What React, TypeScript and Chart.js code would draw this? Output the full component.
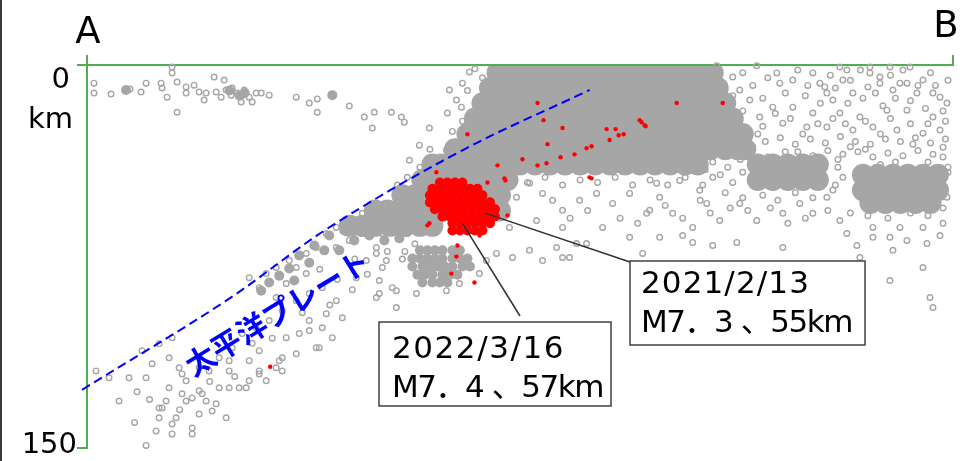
import { useEffect, useRef } from "react";
import { Chart, registerables } from "chart.js";

Chart.register(...registerables);

// ---- axes (distance along section A-B in km, depth in km) ----
const X_MAX = 346;
const DEPTH_MAX = 150;
const distTicks = [0, 346];
const depthTicks = [0, 150];
const endLabels = ["A", "B"];
const depthLabelTop = ["0", "km"];
const depthLabelBottom = "150";

// ---- hypocentres (gray) : dense core, rows of [depth, distances] ----
const grayCoreRows: [number, number[]][] = [
  [3, [164, 170, 176, 182, 188, 194, 200, 206, 212, 218, 224, 230, 236, 242, 246, 250]],
  [9, [161, 167, 173, 179, 185, 191, 197, 203, 209, 215, 221, 227, 233, 239, 245, 249, 252]],
  [15, [158, 164, 170, 176, 182, 188, 194, 200, 206, 212, 218, 224, 230, 236, 242, 248, 252, 255]],
  [21, [155, 161, 167, 173, 179, 185, 191, 197, 203, 209, 215, 221, 227, 233, 239, 245, 251, 255, 258]],
  [27, [152, 158, 164, 170, 176, 182, 188, 194, 200, 206, 212, 218, 224, 230, 236, 242, 248, 254, 259, 262]],
  [33, [147, 153, 159, 165, 171, 177, 183, 189, 195, 201, 207, 213, 219, 225, 231, 237, 243, 249, 255, 260, 263]],
  [39, [138, 143, 149, 155, 161, 167, 173, 179, 185, 191, 197, 203, 209, 215, 221, 227, 233, 239, 244, 268, 274, 280, 286, 292]],
  [45, [134, 139, 145, 151, 157, 163, 168, 268, 274, 280, 286, 292]],
  [51, [126, 131, 136, 142, 148, 154, 160, 165]],
  [57, [115, 120, 125, 131, 137, 143, 149, 155, 161, 165]],
  [63, [105, 110, 115, 121, 127, 133, 138]],
  [43, [310, 316, 322, 328, 334, 340]],
  [49, [310, 316, 322, 328, 334, 340]],
  [54, [313, 319, 325, 331, 337]],
];

// medium clusters (slab top, lower blob, small shallow clusters) [dist, depth]
const grayCluster: [number, number][] = [
  [96.8, 66.8], [102.8, 64.8], [106.8, 68.7], [112.8, 66.8], [118.8, 68.7], [124.8, 67.9],
  [90.8, 70.7], [94.8, 72.6], [100.8, 72.6], [84.8, 74.6], [88.8, 77.4], [80.8, 79.7],
  [76.8, 82.5], [72.8, 85.2], [69.6, 88.4], [82.8, 84.4],
  [133, 72.6], [136, 72.6], [139, 72.6], [142, 72.6], [146, 72.6], [149, 72.6],
  [130, 75.8], [133, 75.8], [136, 75.8], [139, 75.8], [142, 75.8], [146, 75.8], [149, 75.8], [152, 75.8],
  [130, 78.9], [134, 78.9], [137, 78.9], [140, 78.9], [143, 78.9], [146, 78.9], [150, 78.9], [153, 78.9],
  [132, 82.1], [135, 82.1], [138, 82.1], [142, 82.1], [145, 82.1], [148, 82.1],
  [134, 85.2], [138, 85.2], [141, 85.2], [144, 85.2],
  [15.6, 9.8], [98, 11.8], [57, 10], [61, 12], [63, 11],
];

// scattered hypocentres (rings) : shallow part near A
const grayShallow: [number, number][] = [
  [2.8, 7.1], [2.8, 11], [9.6, 11.4], [17.2, 9.4], [21.6, 10.6], [23.6, 7.1], [29.6, 7.1], [30, 9],
  [32, 12.6], [34, 0.8], [34, 3.1], [36, 6.7], [39.6, 8.6], [39.6, 11], [42.8, 7.9], [44.8, 10.6],
  [47.6, 11], [50.8, 4.7], [51.6, 10.6], [54.8, 5.9], [55.6, 9.8], [57.6, 11.8], [60, 11], [62, 11.8],
  [61.6, 14.5], [66, 14.5], [67.6, 11], [69.6, 11], [72.8, 11.8], [36, 18.5], [83.6, 12.6], [88.8, 14.9],
  [92, 13.3], [92, 18.5], [104.8, 16.1], [110.8, 20.4], [114.8, 18.5], [114, 24.7], [58, 9],
  [62.8, 9.8], [64.8, 12.6], [53.6, 12.6], [46.8, 13.7], [121.6, 18.5], [125.6, 20.4], [126.8, 22.4],
  [136.8, 24.7], [144, 18.8], [149.6, 16.5], [152.8, 2.7], [143.6, 33.4], [147.6, 30.6], [132.8, 31.4],
  [128.8, 37.3], [144.8, 9.8], [150, 7.1], [147.6, 13.7], [155, 1.5], [158, 5], [152, 10], [150, 22],
  [146, 26], [141, 36], [137, 33], [133, 40], [128, 44], [124, 47],
];

// scattered hypocentres (rings) : along the Pacific slab
const graySlab: [number, number][] = [
  [3.6, 119.8], [8.8, 122.5], [12.8, 131.6], [23.6, 149], [28.8, 138.2], [31.6, 131.6], [34, 140.6],
  [39.6, 131.6], [42, 130.4], [44.8, 127.6], [47.6, 131.6], [50, 135.5], [52.8, 126.4], [56.8, 119.8],
  [60.8, 126.4], [64.8, 123.7], [68.8, 121], [76.8, 115.8], [78, 119.8], [84.8, 105.2], [88.8, 104],
  [92.8, 110.7], [95.6, 97.4], [16.8, 122.5], [23.6, 122.5], [26, 117], [22, 111.9], [28.8, 109.2],
  [34, 106.8], [36.8, 118.6], [44.8, 136.7], [30, 134.3], [55.6, 138.2], [42, 144.5], [32.8, 114.7],
  [38, 121], [35.6, 138.2], [46, 128.8], [51.6, 132.7], [56.8, 126.4], [48.8, 119.8], [56.8, 115.8],
  [64.8, 115.8], [68.8, 111.9], [63.6, 126.4], [68.8, 119.8], [78, 114.7], [79.6, 106.8], [88.8, 100.1],
  [94, 102.9], [98, 106.8], [91.6, 110.7], [83.6, 113.1], [75.6, 118.6], [71.6, 123.7], [64.8, 83.3],
  [68.8, 87.2], [71.6, 81.7], [75.6, 79.3], [80.8, 76.6], [83.6, 79.3], [87.6, 73.8], [91.6, 71.5],
  [95.6, 66], [99.6, 63.6], [104.8, 60.9], [110, 58.1], [115.6, 60.9], [118, 66], [120.8, 58.1],
  [124.8, 64.8], [99.6, 71.5], [104.8, 68.7], [110, 66], [115.6, 71.5], [118, 79.3], [116.8, 89.5],
  [122, 87.2], [123.6, 95], [102, 99], [99.6, 92.3], [94, 87.2], [88.8, 89.5], [83.6, 92.3], [78, 96.2],
  [72.8, 100.1], [67.6, 102.9], [62, 105.2], [58, 110.7], [52.8, 114.7], [44.8, 118.6], [39.6, 123.7],
  [32.8, 126.4], [28.8, 134.3], [34, 144.5], [27.6, 143.3], [42, 142.2], [38, 128.8], [107.6, 83.3],
  [111.6, 76.6], [87.6, 81.7], [79.6, 85.6], [75.6, 91.1],
  [115.6, 73.8], [119.6, 76.6], [116.8, 84.4], [115.6, 91.1], [123.6, 88.4], [131.6, 89.5], [143.6, 88.4],
  [148.8, 85.6], [156.8, 81.7], [159.6, 76.6], [163.6, 73.8], [170, 75.4], [176.8, 72.6], [182, 76.6],
  [190, 75.4], [195.6, 69.9], [128, 66], [131, 70], [127, 73],
  [20, 128], [25, 131], [19, 140], [37, 135], [49, 124], [59, 122], [66, 109], [74, 107], [86, 97],
  [97, 94], [106, 88], [112, 82], [120, 73], [126, 76], [107, 76], [93, 80], [100, 84],
];

// scattered hypocentres (rings) : landward side toward B
const grayInland: [number, number][] = [
  [228.8, 67.5], [238, 66.8], [242, 69.5], [250, 70.7], [259.6, 69.5], [278, 71.5], [307.6, 70.7],
  [314, 67.5], [320.8, 67.5], [327.6, 68.7], [335.6, 69.9], [340.8, 66.8], [308.8, 75.4], [322, 72.6],
  [334, 79.3], [320.8, 84.4], [336.8, 91.1], [338, 95], [222, 73.8], [224.8, 56.9], [228.8, 51.8],
  [234, 58.1], [242, 63.6], [247.6, 54.2], [252.8, 60.9], [260.8, 54.2], [267.6, 60.9], [278, 58.1],
  [284.8, 54.2], [290, 58.1], [295.6, 51.8], [300.8, 60.9], [303.6, 66], [314, 63.6], [324.8, 63.6],
  [334, 63.6], [342, 62], [343.6, 51.8], [244.8, 49.1], [236.8, 45.2], [227.6, 46.3], [171.6, 51.8],
  [176.8, 46.3], [182, 50.3], [190, 56.9], [196.8, 53], [203.6, 50.3], [210, 54.2], [216.8, 50.3],
  [223.6, 58.1], [179.6, 60.9], [190, 63.6], [206, 63.6], [216.8, 67.5], [168.8, 63.6], [187.6, 71.5],
  [199.6, 69.9], [192.8, 75.4],
  [176, 46], [183, 44], [190, 47], [197, 45], [204, 46], [211, 44], [218, 47], [225, 45], [232, 47],
  [239, 44], [246, 47], [253, 43], [258, 46], [255, 50], [262, 52], [270, 51], [276, 53], [283, 50],
  [290, 52], [298, 49], [245, 53], [250, 38], [256, 40], [261, 37], [300, 40], [302, 44], [299, 47],
  [271, 30], [277, 28.5], [283, 31], [289, 29], [295, 30.5], [301, 28], [307, 30], [313, 31], [319, 29],
  [325, 30], [331, 28.5], [337, 30.5], [343, 29], [284, 34], [290, 35.5], [296, 33.5], [302, 35],
  [308, 34], [314, 36], [320, 34.5], [326, 35.5], [332, 33.5], [338, 35],
  [251.6, 0.3], [267.6, 0.3], [275.6, 3.1], [276.8, 7.1], [282, 5.9], [290, 3.1], [292.8, 7.1],
  [295.6, 11], [298, 13.7], [302, 5.9], [306, 11], [312.8, 3.1], [316.8, 7.1], [322, 9.8], [327.6, 7.1],
  [331.6, 11], [338, 11], [343.6, 14.9], [300.8, 0.8], [312.8, 0.8], [320.8, 0.8], [328.8, 0.8],
  [282, 16.5], [290, 18.8], [300.8, 18.8], [308.8, 20.4], [319.6, 17.7], [327.6, 17.7], [338, 20.4],
  [274, 16.5], [268.8, 20.4], [264.8, 13.7], [260.8, 9.8], [258, 4.7], [278, 22.8], [287.6, 24.3],
  [295.6, 24.3], [306, 25.5], [314, 24.3], [323.6, 25.5], [334, 26.7], [342, 32.2], [340.8, 25.5],
  [294.8, 8.6], [303.6, 2], [312, 8.6], [316.8, 4.7], [324.8, 7.1], [334, 5.9], [340.8, 12.6],
  [258, 12], [262, 18], [256, 24], [264, 26], [260, 28], [268, 27],
  [262, 3], [266, 8], [270, 13], [272, 5], [279, 11], [284, 2], [287, 12], [288, 8], [293, 15], [297, 4],
  [299, 9], [304, 15], [305, 6], [309, 2], [310, 13], [315, 11], [318, 16], [321, 4], [323, 13],
  [326, 2], [329, 14], [332, 8], [335, 17], [337, 3], [339, 8], [342, 18], [344, 6], [270, 24],
  [275, 19], [281, 21], [286, 27], [292, 23], [298, 21], [303, 23], [311, 22], [317, 27], [321, 21],
  [329, 23], [336, 23], [343, 22], [266, 32], [272, 36], [279, 34], [286, 38], [293, 39], [305, 32],
  [311, 33], [317, 39], [323, 38], [330, 31], [336, 38], [342, 36], [344, 42],
  [186, 53], [193, 60], [200, 57], [213, 60], [220, 62], [231, 55], [238, 60], [249, 58], [257, 56],
  [264, 57], [273, 56], [280, 62], [287, 60], [296, 57], [305, 58], [312, 59], [320, 60], [329, 58],
  [336, 59], [342, 56], [341, 45], [344, 40], [250, 44], [247, 41], [258, 34], [262, 42], [300, 37],
];

// ---- aftershocks (red) ----
const redCoreRows: [number, number[]][] = [
  [46, [141, 144, 147, 150]],
  [48.5, [138, 141, 144, 147, 150, 153, 156]],
  [51, [137, 140, 143, 146, 149, 152, 155, 158]],
  [53.8, [137, 140, 143, 146, 149, 152, 155, 158, 161]],
  [56.5, [139, 142, 145, 148, 151, 154, 157, 160, 163]],
  [59.3, [142, 145, 148, 151, 154, 157, 160, 163]],
  [62, [146, 149, 152, 155, 158, 161]],
  [64.8, [146, 149, 152, 155, 158]],
];
const redScatter: [number, number][] = [
  [180, 14.9], [152, 27.1], [182.4, 21.6], [190, 24.7], [184, 31], [194.8, 35], [199.6, 32.6],
  [201.6, 31.8], [207.6, 25.1], [211.2, 25.1], [212.4, 27.5], [214.4, 27.1], [208.8, 29.4],
  [220.8, 21.6], [222.8, 23.6], [235.6, 14.9], [254, 14.9], [189.2, 36.1], [183.6, 38.5], [180, 39.3],
  [174, 36.9], [164, 39.3], [160, 46], [201.6, 44.4], [143.6, 46], [221.6, 22.4], [223.2, 24],
  [147.6, 75], [145.6, 81.7], [154.8, 85.2], [73.2, 118.2], [167.2, 45.2], [139.6, 42], [136, 62.8],
  [168, 58.9], [200.8, 44], [166.8, 44.4], [148, 70.7], [145.6, 65.6], [156.8, 66.8], [136.8, 62],
];

// ---- upper surface of the Pacific plate (dashed) ----
const plateDist = [-2, 55.6, 96.8, 150, 200.8];
const plateDepth = [127.2, 92.3, 63.6, 33.4, 9.8];
const plateLabel = "太平洋プレート";
const plateLabelAt: [number, number] = [76, 97];

// ---- main shocks ----
const quakes = [
  { date: "2021/2/13", info: "M7．3 、55km", at: [159, 58] },
  { date: "2022/3/16", info: "M7．4 、57km", at: [150, 62] },
];

const GREEN = "#4fae4f";
const GRAY = "#a6a6a6";
const RED = "#ff0000";
const BLUE = "#0000ff";

const toPts = (a: [number, number][]) => a.map(([x, y]) => ({ x, y }));
const rowsToPts = (rows: [number, number[]][]) =>
  rows.flatMap(([d, xs]) => xs.map((x) => ({ x, y: d })));

function fitText(ctx: CanvasRenderingContext2D, text: string, x: number, y: number, width: number) {
  const c: any = ctx;
  c.letterSpacing = "0px";
  const w = ctx.measureText(text).width;
  const n = Array.from(text).length;
  c.letterSpacing = (width - w) / n + "px";
  ctx.fillText(text, x, y);
  c.letterSpacing = "0px";
}

const overlay = {
  id: "overlay",
  afterDatasetsDraw(chart: any) {
    const { ctx } = chart;
    const xs = chart.scales.x;
    const ys = chart.scales.y;
    const px = (v: number) => xs.getPixelForValue(v);
    const py = (v: number) => ys.getPixelForValue(v);
    ctx.save();

    // left frame edge
    ctx.fillStyle = "#3a3a3a";
    ctx.fillRect(0, 0, 2, chart.height);

    // section end labels
    ctx.fillStyle = "#000";
    ctx.font = '37px "DejaVu Sans"';
    ctx.textAlign = "center";
    ctx.textBaseline = "alphabetic";
    ctx.fillText(endLabels[0], px(distTicks[0]) + 1, 43);
    ctx.fillText(endLabels[1], px(distTicks[1]) - 7, 37);

    // depth labels
    ctx.font = '29px "DejaVu Sans"';
    ctx.textAlign = "right";
    ctx.fillText(depthLabelTop[0], 70, py(depthTicks[0]) + 23);
    ctx.fillText(depthLabelTop[1], 73, py(depthTicks[0]) + 63);
    ctx.fillText(depthLabelBottom, 77, py(depthTicks[1]) + 5);

    // plate label
    ctx.save();
    ctx.translate(px(plateLabelAt[0]), py(plateLabelAt[1]));
    ctx.rotate((-31.6 * Math.PI) / 180);
    ctx.fillStyle = BLUE;
    ctx.font = 'bold 30px "Noto Sans CJK JP"';
    ctx.textAlign = "center";
    ctx.textBaseline = "middle";
    ctx.fillText(plateLabel, 0, 0);
    ctx.restore();

    // callouts
    const boxes = [
      { x: 630, y: 261, w: 235, h: 84, tx: 641, l1: 293, l2: 332, w1: 169, w2: 211, end: [630, 262] },
      { x: 379, y: 322, w: 232, h: 84, tx: 392, l1: 358, l2: 397, w1: 173, w2: 211, end: [520, 316] },
    ];
    quakes.forEach((q, i) => {
      const b = boxes[i];
      ctx.strokeStyle = "#303030";
      ctx.lineWidth = 1.5;
      ctx.beginPath();
      ctx.moveTo(px(q.at[0]), py(q.at[1]));
      ctx.lineTo(b.end[0], b.end[1]);
      ctx.stroke();
    });
    quakes.forEach((q, i) => {
      const b = boxes[i];
      ctx.fillStyle = "#fff";
      ctx.fillRect(b.x, b.y, b.w, b.h);
      ctx.strokeStyle = "#404040";
      ctx.lineWidth = 1.5;
      ctx.strokeRect(b.x, b.y, b.w, b.h);
      ctx.fillStyle = "#000";
      ctx.font = '31px "DejaVu Sans", "Noto Sans CJK JP"';
      ctx.textAlign = "left";
      ctx.textBaseline = "alphabetic";
      fitText(ctx, q.date, b.tx, b.l1, b.w1);
      fitText(ctx, q.info, b.tx, b.l2, b.w2);
    });
    ctx.restore();
  },
};

export default function App() {
  const ref = useRef<HTMLCanvasElement>(null);
  useEffect(() => {
    if (!ref.current) return;
    const ringStyle = {
      pointRadius: 2.8,
      pointBorderWidth: 1.4,
      pointBorderColor: GRAY,
      pointBackgroundColor: "rgba(255,255,255,0)",
      showLine: false,
      clip: false as const,
    };
    const chart = new Chart(ref.current, {
      type: "scatter",
      data: {
        datasets: [
          {
            label: "plate",
            data: plateDist.map((x, i) => ({ x, y: plateDepth[i] })),
            showLine: true,
            borderColor: BLUE,
            borderWidth: 2,
            borderDash: [9, 5],
            tension: 0.35,
            pointRadius: 0,
            clip: false,
            order: 0,
          } as any,
          {
            label: "redScatter",
            data: toPts(redScatter),
            pointRadius: 2.2,
            pointBorderWidth: 0,
            pointBackgroundColor: RED,
            order: 1,
          },
          {
            label: "redCore",
            data: rowsToPts(redCoreRows),
            pointRadius: 5,
            pointBorderWidth: 0,
            pointBackgroundColor: RED,
            order: 2,
          },
          { label: "shallow", data: toPts(grayShallow), ...ringStyle, order: 3 },
          { label: "slab", data: toPts(graySlab), ...ringStyle, order: 3 },
          { label: "inland", data: toPts(grayInland), ...ringStyle, order: 3 },
          {
            label: "cluster",
            data: toPts(grayCluster),
            pointRadius: 5,
            pointBorderWidth: 0,
            pointBackgroundColor: GRAY,
            order: 4,
          },
          {
            label: "core",
            data: rowsToPts(grayCoreRows),
            pointRadius: 11,
            pointBorderWidth: 0,
            pointBackgroundColor: GRAY,
            clip: { left: 0, right: 0, top: -1, bottom: 0 },
            order: 5,
          } as any,
        ],
      },
      options: {
        responsive: false,
        animation: false,
        events: [],
        layout: { padding: { left: 0, top: 0, right: 22, bottom: 13 } },
        plugins: { legend: { display: false }, tooltip: { enabled: false } },
        scales: {
          x: {
            type: "linear",
            position: "top",
            min: 0,
            max: X_MAX,
            afterFit: (s: any) => {
              s.height = 65;
            },
            afterBuildTicks: (s: any) => {
              s.ticks = distTicks.map((value) => ({ value }));
            },
            ticks: { display: false },
            grid: { drawOnChartArea: false, drawTicks: true, tickLength: 10, color: GREEN, lineWidth: 2 },
            border: { display: true, color: GREEN, width: 2 },
          },
          y: {
            type: "linear",
            position: "left",
            reverse: true,
            min: 0,
            max: DEPTH_MAX,
            afterFit: (s: any) => {
              s.width = 87;
            },
            afterBuildTicks: (s: any) => {
              s.ticks = depthTicks.map((value) => ({ value }));
            },
            ticks: { display: false },
            grid: { drawOnChartArea: false, drawTicks: true, tickLength: 10, color: GREEN, lineWidth: 2 },
            border: { display: true, color: GREEN, width: 2 },
          },
        },
      },
      plugins: [overlay],
    });
    return () => chart.destroy();
  }, []);
  return (
    <div style={{ position: "fixed", left: 0, top: 0, width: 975, height: 461, background: "#fff" }}>
      <canvas ref={ref} width={975} height={461} style={{ display: "block" }} />
    </div>
  );
}
